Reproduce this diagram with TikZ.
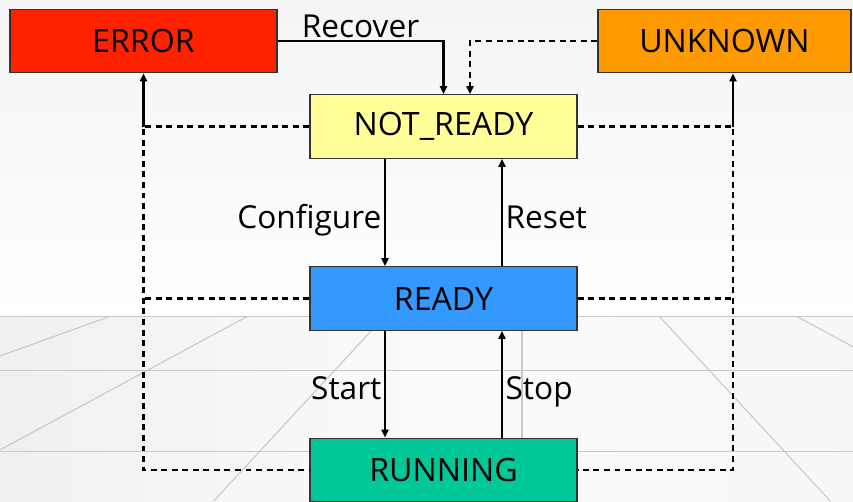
\documentclass[tikz,border=0pt]{standalone}
\usepackage{fontspec}
\setmainfont{Open Sans}
\usetikzlibrary{arrows.meta}
\definecolor{errred}{HTML}{FF2200}
\definecolor{unkorange}{HTML}{FF9900}
\definecolor{nryellow}{HTML}{FFFF99}
\definecolor{rdyblue}{HTML}{3399FF}
\definecolor{runteal}{HTML}{00C899}
\definecolor{floorline}{HTML}{C8C8C8}
\tikzset{
  state/.style={draw=black!80, line width=0.7pt, minimum width=5.34cm, minimum height=1.27cm, inner sep=0pt, font=\fontsize{18.3}{22}\selectfont},
  trans/.style={line width=1.15pt, -{Triangle[length=4.6pt,width=4pt]}},
  fault/.style={line width=1.35pt, dash pattern=on 3.4pt off 2.6pt},
  lbl/.style={font=\fontsize{18}{21}\selectfont, inner sep=1.5pt}
}
\begin{document}
\begin{tikzpicture}[x=0.02cm,y=-0.02cm]
\useasboundingbox (0,0) rectangle (853,501);
\shade[top color=black!4, bottom color=white] (0,0) rectangle (853,316);
\shade[left color=black!6, right color=black!3, middle color=black!1.5] (0,316) rectangle (853,501);
\begin{scope}[floorline, line width=0.6pt]
\clip (0,316) rectangle (853,501);
\draw (0,316) -- (853,316);
\draw (0,370.7) -- (853,370.7);
\draw (0,451.7) -- (853,451.7);
\foreach \k in {-3,...,2}
  \draw (522+137*\k,316) -- (522+308.3*\k,501);
\end{scope}

\node[state, fill=errred] (error) at (143.5,41) {ERROR};
\node[state, fill=unkorange, minimum width=5.06cm] (unknown) at (724.5,41) {UNKNOWN};
\node[state, fill=nryellow] (notready) at (443.5,126.5) {NOT\_READY};
\node[state, fill=rdyblue] (ready) at (443.5,298.5) {READY};
\node[state, fill=runteal] (running) at (443.5,470) {RUNNING};
\coordinate (rbus) at (733,41);

\draw[trans] (error.east) -| (notready.north) node[lbl, pos=0.25, above] {Recover};
\draw[trans, line width=1.35pt, dash pattern=on 3.4pt off 2.6pt] (unknown.west) -| ([xshift=0.53cm]notready.north);

\draw[trans] (error.south |- notready.west) -- (error.south);
\draw[fault] (notready.west) -- (error.south |- notready.west) -- (error.south |- running.west) -- (running.west);
\draw[fault] (ready.west) -- (error.south |- ready.west);
\draw[trans] (rbus |- notready.east) -- (rbus |- unknown.south);
\draw[fault] (notready.east) -- (rbus |- notready.east) -- (rbus |- running.east) -- (running.east);
\draw[fault] (ready.east) -- (rbus |- ready.east);

\draw[trans] ([xshift=-1.17cm]notready.south) -- ([xshift=-1.17cm]ready.north) node[lbl, midway, anchor=mid east, yshift=-0.22cm] {Configure};
\draw[trans] ([xshift=1.17cm]ready.north) -- ([xshift=1.17cm]notready.south) node[lbl, midway, anchor=mid west, yshift=-0.22cm] {Reset};
\draw[trans] ([xshift=-1.17cm]ready.south) -- ([xshift=-1.17cm]running.north) node[lbl, midway, anchor=mid east, yshift=-0.22cm] {Start};
\draw[trans] ([xshift=1.17cm]running.north) -- ([xshift=1.17cm]ready.south) node[lbl, midway, anchor=mid west, yshift=-0.22cm] {Stop};
\end{tikzpicture}
\end{document}
